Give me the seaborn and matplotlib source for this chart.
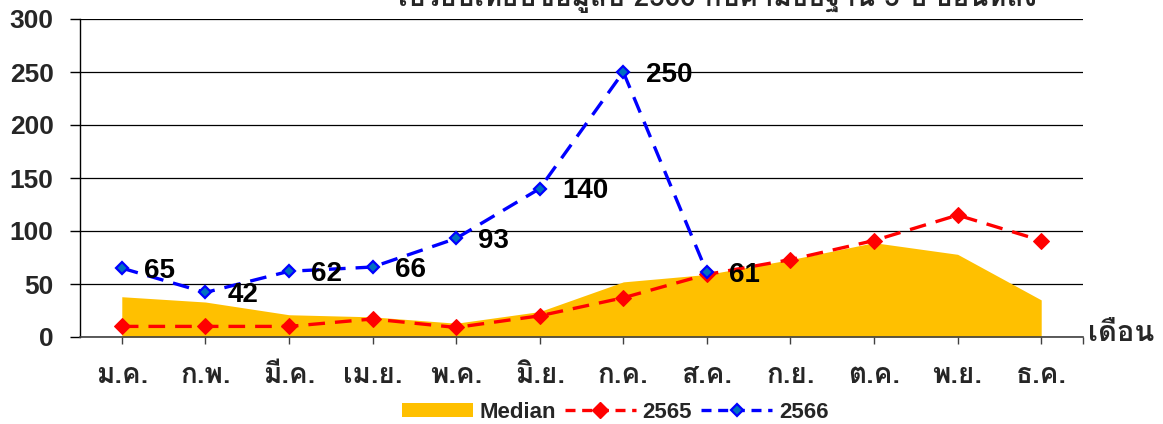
import matplotlib
matplotlib.use("Agg")
import matplotlib.pyplot as plt
from matplotlib import font_manager
from matplotlib.ft2font import FT2Font
from matplotlib.patches import Patch
from matplotlib.lines import Line2D
import seaborn as sns
import pandas as pd
import numpy as np

# ---------------- data ----------------
months = ["ม.ค.", "ก.พ.", "มี.ค.", "เม.ย.", "พ.ค.", "มิ.ย.",
          "ก.ค.", "ส.ค.", "ก.ย.", "ต.ค.", "พ.ย.", "ธ.ค."]
median_vals = [38, 33, 21, 19, 13, 24, 52, 59, 73, 89, 78, 35]
vals_2565 = [10, 10, 10, 17, 9, 20, 37, 59, 73, 91, 115, 91]
vals_2566 = [65, 42, 62, 66, 93, 140, 250, 61]
title_text = "เปรียบเทียบข้อมูลปี 2566 กับค่ามัธยฐาน 5 ปี ย้อนหลัง"
xlabel_text = "เดือน"
y_ticks = [0, 50, 100, 150, 200, 250, 300]

# ---------------- fonts ----------------
sns.set_style("white")

def thai_fonts():
    found = []
    for f in font_manager.fontManager.ttflist:
        try:
            cm = FT2Font(f.fname).get_charmap()
        except Exception:
            continue
        if ord("ด") in cm:
            found.append(f)
    return found

tf = thai_fonts()
bold_thai = [f.name for f in tf if (isinstance(f.weight, int) and f.weight >= 600) or str(f.weight) in ("bold", "heavy", "black")]
thai_names = bold_thai + [f.name for f in tf]
seen = []
for n in thai_names:
    if n not in seen:
        seen.append(n)
family = ["Liberation Sans"] + seen + ["DejaVu Sans"]
thai_family = seen + ["Liberation Sans", "DejaVu Sans"]
plt.rcParams["font.family"] = family
plt.rcParams["font.weight"] = "bold"

# ---------------- figure ----------------
fig = plt.figure(figsize=(11.63, 4.24), dpi=100)
ax = fig.add_axes([80 / 1163, 1 - 337 / 424, (1083 - 80) / 1163, (337 - 19) / 424])

x_all = np.arange(len(months))
df_med = pd.DataFrame({"x": x_all, "v": median_vals})
df65 = pd.DataFrame({"x": x_all, "v": vals_2565})
df66 = pd.DataFrame({"x": x_all[:len(vals_2566)], "v": vals_2566})

# median area
ax.fill_between(df_med["x"], 0, df_med["v"], color="#FFC000", linewidth=0, zorder=2)

# lines
sns.lineplot(data=df65, x="x", y="v", ax=ax, color="#FF0000", linewidth=2.4,
             marker="D", markersize=8, markeredgecolor="#FF0000",
             markerfacecolor="#FF0000", zorder=4)
sns.lineplot(data=df66, x="x", y="v", ax=ax, color="#0000FF", linewidth=2.4,
             marker="D", markersize=6.5, markeredgecolor="#0000FF",
             markeredgewidth=1.6, markerfacecolor="#0070C0", zorder=5)
for ln in ax.lines:
    ln.set_dashes((5, 3))

# data labels
for xi, v in zip(df66["x"], df66["v"]):
    ax.annotate(str(v), (xi, v), xytext=(16, -2), textcoords="offset points",
                ha="left", va="center", fontsize=20, fontweight="bold",
                color="black", zorder=6)

ax.set_xlim(-0.5, 11.5)
ax.set_ylim(0, 300)
ax.set_xticks(x_all)
ax.set_xticklabels(months, fontsize=20, fontweight="bold", family=thai_family)
ax.set_yticks(y_ticks)
ax.set_yticklabels([str(t) for t in y_ticks], fontsize=19, fontweight="bold")
ax.set_xticks([11.5], minor=True)
ax.tick_params(axis="x", which="both", direction="out", length=5, width=1,
               color="#404040", pad=14, bottom=True)
ax.tick_params(axis="y", direction="out", length=7, width=1, color="black",
               pad=12, left=True)
ax.set_xlabel("")
ax.set_ylabel("")
ax.yaxis.grid(True, color="black", linewidth=0.9)
ax.set_axisbelow(True)
for s in ["top", "right"]:
    ax.spines[s].set_visible(False)
ax.spines["left"].set_color("black")
ax.spines["left"].set_linewidth(1)
ax.spines["bottom"].set_color("#404040")
ax.spines["bottom"].set_linewidth(1.2)

# x axis title
fig.text(1088 / 1163, 1 - 333 / 424, xlabel_text, ha="left", va="center",
         fontsize=21, fontweight="bold", family=thai_family)

# chart title (cut at top, as in the original)
fig.text(717 / 1163, 1 - 6 / 424, title_text, ha="center", va="baseline",
         fontsize=20, fontweight="bold", family=thai_family)

# legend
handles = [
    Patch(facecolor="#FFC000", edgecolor="none", label="Median"),
    Line2D([0], [0], color="#FF0000", lw=2.4, dashes=(3, 2), marker="D",
           markersize=8, markerfacecolor="#FF0000", markeredgecolor="#FF0000",
           label="2565"),
    Line2D([0], [0], color="#0000FF", lw=2.4, dashes=(3, 2), marker="D",
           markersize=6.5, markerfacecolor="#0070C0", markeredgecolor="#0000FF",
           markeredgewidth=1.6, label="2566"),
]
fig.legend(handles=handles, loc="center", bbox_to_anchor=(615 / 1163, 1 - 412 / 424),
           ncol=3, frameon=False, handlelength=3.2, handleheight=0.6,
           handletextpad=0.3, columnspacing=0.4, prop={"weight": "bold", "size": 16})

fig.savefig("out.png", dpi=100)
